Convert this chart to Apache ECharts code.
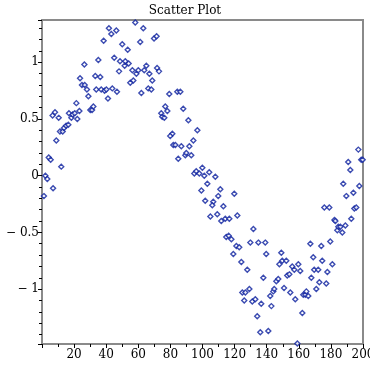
<!DOCTYPE html>
<html>
<head>
<meta charset="utf-8">
<script src="https://cdn.jsdelivr.net/npm/echarts@6/dist/echarts.min.js"></script>
<style>
  html, body { margin: 0; padding: 0; background: #fff; }
  #chart { width: 370px; height: 370px; }
</style>
</head>
<body>
<div id="chart"></div>
<script>
// noisy sine samples, [x, y]
var pointsA = [
  [1.2,-0.18],[2.1,0.0],[3.3,-0.03],[6.9,-0.11],[4.2,0.16],[5.4,0.14],[12,0.08],[8.9,0.31],[6.6,0.53],[8.1,0.56],
  [10.4,0.51],[11.2,0.39],[12.9,0.39],[13.7,0.42],[15,0.44],[16.4,0.45],[16.8,0.55],[18.3,0.51],[19.1,0.54],[20.4,0.55],
  [21.4,0.64],[22,0.50],[23.3,0.57],[23.7,0.86],[24.9,0.80],[26.6,0.80],[26.4,0.98],[28,0.76],[28.9,0.70],[30.1,0.58],
  [31.2,0.58],[32,0.61],[33.2,0.88],[33.8,0.76],[35.1,1.02],[36.3,0.87],[36.9,0.76],[38.4,1.19],[39,0.75],[40.1,0.76],
  [41.1,0.68],[41.7,1.30],[43.2,1.25],[43.8,0.77],[45,1.04],[46.3,1.28],[46.7,0.74],[48,0.92],[48.6,1.01],[50,1.16]
];
var pointsB = [
  [53.4,1.11],[58.1,1.35],[63.1,1.30],[61.2,1.18],[69.8,1.21],[71.4,1.23],[51.9,1.01],[54,0.99],[51.5,0.97],[56.3,0.93],
  [58.8,0.90],[60,0.93],[63.7,0.93],[65,0.97],[66.9,0.90],[71.7,0.95],[72.9,0.92],[68.7,0.84],[55,0.82],[56.9,0.84],
  [61.9,0.73],[66.2,0.77],[68.1,0.76],[79.3,0.72],[84.3,0.74],[86.2,0.74],[76.8,0.61],[78.1,0.57],[74.3,0.55],[74.9,0.52],
  [76.2,0.51],[88,0.59],[91.2,0.49],[96.8,0.40],[81.2,0.37],[79.9,0.35],[81.8,0.27],[83.1,0.27],[86.8,0.26],[94.3,0.31],
  [91.8,0.26],[84.9,0.15],[89.3,0.18],[89.9,0.20],[93,0.18],[94.9,0.02],[96.1,0.04],[98,0.02],[99.9,0.07],[99.3,-0.13]
];
var pointsC = [
  [101.1,0.00],[104.2,0.03],[108,-0.01],[103,-0.07],[101.7,-0.22],[111.1,-0.12],[109.8,-0.18],[106.7,-0.23],[106.1,-0.26],[119.8,-0.16],
  [113,-0.27],[104.9,-0.36],[109.2,-0.34],[111.7,-0.40],[114.2,-0.38],[116.7,-0.38],[121.7,-0.35],[114.8,-0.54],[116.3,-0.53],[118,-0.56],
  [121.1,-0.62],[122.9,-0.63],[119.2,-0.69],[124.2,-0.76],[127.9,-0.83],[131.7,-0.47],[129.8,-0.59],[134.8,-0.59],[139.1,-0.59],[139.7,-0.69],
  [137.9,-0.90],[124.8,-1.03],[126.7,-1.03],[129.2,-1.00],[126,-1.10],[131,-1.11],[132.9,-1.09],[136.6,-1.13],[134.1,-1.24],[136,-1.38],
  [141,-1.37],[142.9,-1.15],[142.2,-1.06],[144.1,-1.02],[144.7,-1.00],[146,-0.93],[147.2,-0.91],[147.9,-0.78],[149.1,-0.68],[149.7,-0.75]
];
var pointsD = [
  [152.2,-0.75],[150.8,-0.99],[152.8,-0.88],[154.1,-0.87],[154.7,-1.03],[155.9,-0.80],[157.2,-0.83],[157.8,-1.09],[159.7,-0.78],[160.9,-0.84],
  [162.2,-1.21],[162.8,-1.05],[164.1,-1.05],[164.7,-1.02],[165.9,-1.06],[159.1,-1.48],[167.2,-0.60],[167.8,-0.90],[169,-0.72],[169.6,-0.83],
  [170.9,-1.00],[172.1,-0.83],[172.8,-0.94],[174,-0.62],[174.6,-0.75],[175.9,-0.28],[179,-0.28],[177.8,-0.85],[177.1,-0.95],[179.6,-0.58],
  [180.9,-0.78],[182.2,-0.39],[182.8,-0.40],[184,-0.48],[184.6,-0.45],[185.9,-0.45],[187.1,-0.50],[189,-0.44],[187.7,-0.07],[189.6,-0.18],
  [190.8,0.12],[192.1,0.05],[192.7,-0.38],[194,-0.15],[194.6,-0.29],[195.8,-0.28],[197.1,0.23],[197.7,-0.09],[198.9,0.14],[199.8,0.14]
];
var xRange = [0, 200];
var yRange = [-1.484, 1.373];

var allPoints = pointsA.concat(pointsB, pointsC, pointsD);

var chart = echarts.init(document.getElementById('chart'));
var font = '"DejaVu Serif", serif';
var gray = '#8a8a8a';

function fmt(v) {
    return String(v).replace('-', '\u2212 ');
}

chart.setOption({
    animation: false,
    title: {
        text: 'Scatter Plot',
        left: 'center',
        top: 0,
        textStyle: { fontFamily: font, fontSize: 12, fontWeight: 'normal', color: '#000' }
    },
    grid: {
        left: 42, right: 7, top: 20, bottom: 26,
        containLabel: false,
        outerBoundsMode: 'none',
        show: true,
        borderColor: gray,
        borderWidth: 2
    },
    xAxis: {
        type: 'value',
        min: xRange[0],
        max: xRange[1],
        interval: 20,
        splitLine: { show: false },
        axisLine: { show: true, onZero: false, lineStyle: { color: gray, width: 2 } },
        axisTick: { show: true, length: 4, lineStyle: { color: '#000' } },
        minorTick: { show: true, splitNumber: 2, length: 3, lineStyle: { color: '#000' } },
        axisLabel: {
            showMinLabel: false,
            hideOverlap: false,
            fontFamily: font, fontSize: 12, color: '#000', margin: 5,
            formatter: fmt
        }
    },
    yAxis: {
        type: 'value',
        min: yRange[0],
        max: yRange[1],
        minInterval: 0.5,
        maxInterval: 0.5,
        splitLine: { show: false },
        axisLine: { show: true, onZero: false, lineStyle: { color: gray, width: 2 } },
        axisTick: { show: true, length: 4, lineStyle: { color: '#000' } },
        minorTick: { show: true, splitNumber: 5, length: 3, lineStyle: { color: '#000' } },
        axisLabel: {
            showMinLabel: false,
            showMaxLabel: false,
            fontFamily: font, fontSize: 12, color: '#000', margin: 3,
            formatter: fmt
        }
    },
    series: [{
        type: 'scatter',
        data: allPoints,
        symbol: 'diamond',
        symbolSize: 5,
        itemStyle: { color: '#fff', borderColor: '#0a1e9e', borderWidth: 1.4 }
    }]
});
</script>
</body>
</html>
